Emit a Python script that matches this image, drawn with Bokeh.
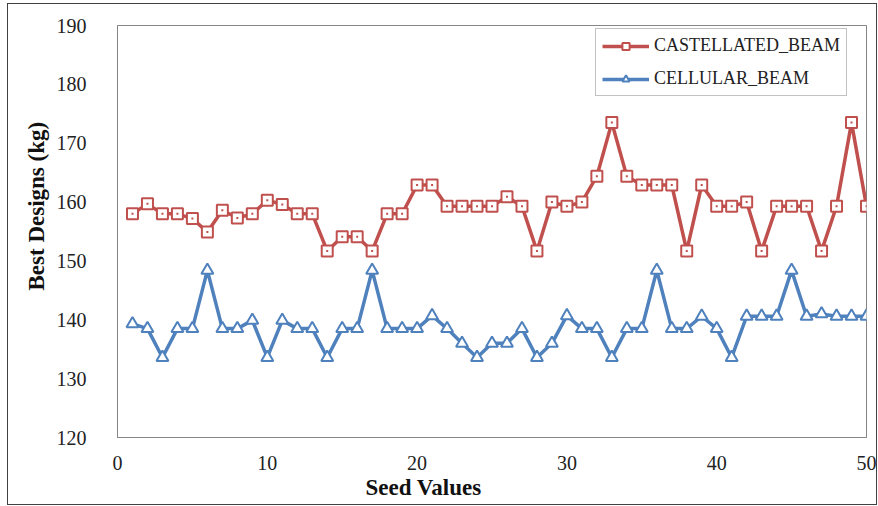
from bokeh.plotting import figure
from bokeh.models import Legend, LegendItem, Title, FixedTicker
from bokeh.embed import file_html
from bokeh.resources import INLINE

seeds = list(range(1, 51))
castellated = [158.0, 159.7, 158.0, 158.0, 157.2, 154.9, 158.6, 157.3, 158.0, 160.3,
               159.6, 158.0, 158.0, 151.7, 154.1, 154.1, 151.7, 158.0, 158.0, 162.9,
               162.9, 159.3, 159.3, 159.3, 159.3, 160.9, 159.3, 151.7, 160.0, 159.3,
               160.0, 164.4, 173.5, 164.4, 162.9, 162.9, 162.9, 151.7, 162.9, 159.3,
               159.3, 160.0, 151.7, 159.3, 159.3, 159.3, 151.7, 159.3, 173.5, 159.3]
cellular = [139.3, 138.5, 133.6, 138.5, 138.5, 148.4, 138.5, 138.5, 139.9, 133.6,
            139.9, 138.5, 138.5, 133.6, 138.5, 138.5, 148.4, 138.5, 138.5, 138.5,
            140.7, 138.5, 136.0, 133.6, 136.0, 136.0, 138.5, 133.6, 136.0, 140.7,
            138.5, 138.5, 133.6, 138.5, 138.5, 148.4, 138.5, 138.5, 140.6, 138.5,
            133.6, 140.6, 140.6, 140.6, 148.4, 140.6, 141.0, 140.6, 140.6, 140.6]
x_ticks = [0, 10, 20, 30, 40, 50]
y_ticks = [120, 130, 140, 150, 160, 170, 180, 190]
series_names = ["CASTELLATED_BEAM", "CELLULAR_BEAM"]
x_title = "Seed Values"
y_title = "Best Designs (kg)"

RED = "#C0504D"
BLUE = "#4F81BD"
SERIF = "Liberation Serif"

p = figure(width=868, height=500, x_range=(0, 50), y_range=(120, 190),
           output_backend="svg", toolbar_location=None,
           min_border_left=109, min_border_right=10, min_border_top=21, min_border_bottom=67)
p.margin = (4, 2, 2, 8)
p.styles = {"outline": "1px solid #404040"}
p.background_fill_color = "white"
p.border_fill_color = "white"
p.outline_line_color = "#868686"
p.outline_line_width = 1
p.xgrid.visible = False
p.ygrid.visible = False

for ax in (p.xaxis[0], p.yaxis[0]):
    ax.axis_line_color = "#868686"
    ax.major_tick_line_color = None
    ax.minor_tick_line_color = None
    ax.major_label_text_font = SERIF
    ax.major_label_text_font_size = "20px"
    ax.major_label_text_color = "#222222"
p.xaxis[0].ticker = FixedTicker(ticks=x_ticks)
p.yaxis[0].ticker = FixedTicker(ticks=y_ticks)
p.xaxis[0].major_label_standoff = 12
p.yaxis[0].major_label_standoff = 25

l1 = p.line(seeds, castellated, line_color=RED, line_width=3.5)
m1 = p.scatter(seeds, castellated, marker="square", size=11, fill_color="white",
               line_color=RED, line_width=2)
p.scatter(seeds, castellated, marker="square", size=2, fill_color=RED, line_color=None)
l2 = p.line(seeds, cellular, line_color=BLUE, line_width=3.5)
m2 = p.scatter(seeds, cellular, marker="triangle", size=12, fill_color="white",
               line_color=BLUE, line_width=2)

legend = Legend(items=[LegendItem(label=series_names[0], renderers=[l1, m1]),
                       LegendItem(label=series_names[1], renderers=[l2, m2])],
                location=(478, 341))
legend.label_text_font = SERIF
legend.label_text_font_size = "18px"
legend.label_text_color = "#222222"
legend.padding = 6
legend.spacing = 12
legend.margin = 0
legend.glyph_width = 47
legend.glyph_height = 18
legend.label_height = 18
legend.label_standoff = 5
legend.border_line_color = "#868686"
legend.border_line_width = 1
legend.background_fill_alpha = 1
p.add_layout(legend)

xt = Title(text=x_title, align="left", offset=248, standoff=0,
           text_font=SERIF, text_font_size="23px", text_font_style="bold",
           text_color="#111111")
p.add_layout(xt, "below")
yt = Title(text=y_title, align="left", offset=147, standoff=10,
           text_font=SERIF, text_font_size="23px", text_font_style="bold",
           text_color="#111111")
p.add_layout(yt, "left")

open("out.html", "w").write(file_html(p, INLINE))
